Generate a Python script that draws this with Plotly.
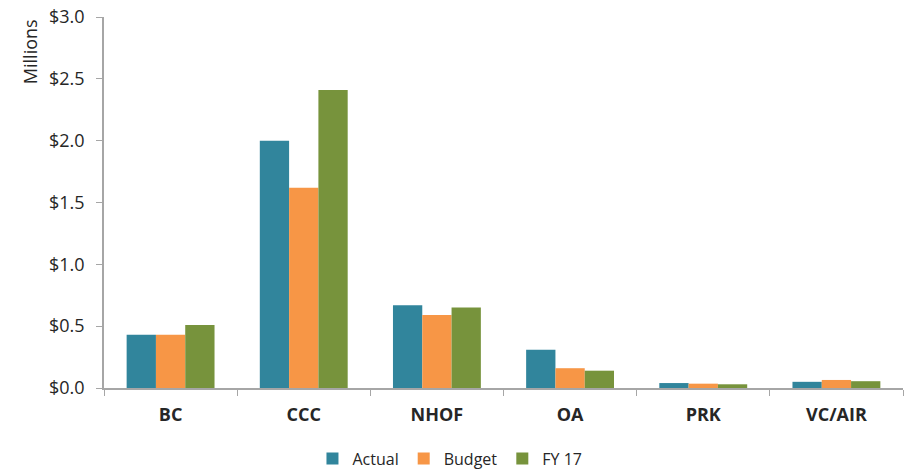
import plotly.graph_objects as go

# categories and series (values in $ millions)
categories = ["BC", "CCC", "NHOF", "OA", "PRK", "VC/AIR"]
actual = [0.43, 2.00, 0.67, 0.31, 0.04, 0.05]
budget = [0.43, 1.62, 0.59, 0.16, 0.035, 0.065]
fy17 = [0.51, 2.41, 0.65, 0.14, 0.03, 0.055]

series = [
    ("Actual", actual, "#31859C"),
    ("Budget", budget, "#F79646"),
    ("FY 17", fy17, "#77933C"),
]

fig = go.Figure()
for name, vals, color in series:
    fig.add_trace(go.Bar(
        x=categories, y=vals, name=name,
        marker=dict(color=color, line=dict(width=0)),
    ))

axis_color = "#A6A6A6"
txt = "#262626"
fig.update_layout(
    width=914, height=472,
    margin=dict(l=104, r=11, t=17, b=84, autoexpand=False),
    paper_bgcolor="white", plot_bgcolor="white",
    barmode="group", bargap=0.34, bargroupgap=0,
    font=dict(family="Open Sans, sans-serif", color=txt),
    legend=dict(
        orientation="h", x=0.433, xanchor="center", y=-0.19, yanchor="middle",
        font=dict(size=16), itemwidth=30, traceorder="normal",
    ),
)
# y-axis title sits at the top, like the original
fig.add_annotation(
    text="Millions", xref="paper", yref="paper", x=-0.093, y=1.0,
    xanchor="center", yanchor="top", textangle=-90, showarrow=False,
    font=dict(size=18, color=txt),
)
fig.update_xaxes(
    showline=True, linecolor=axis_color, linewidth=1.5,
    ticks="outside", tickson="boundaries", ticklen=6, tickcolor=axis_color,
    tickfont=dict(size=18, color=txt, family="Open Sans, sans-serif", weight="bold"),
    ticklabelstandoff=10,
    showgrid=False,
)
fig.update_yaxes(
    range=[0, 3.0], tickvals=[0, 0.5, 1.0, 1.5, 2.0, 2.5, 3.0],
    tickformat="$.1f",
    showline=True, linecolor=axis_color, linewidth=1.5,
    ticks="outside", ticklen=6, tickcolor=axis_color,
    tickfont=dict(size=18, color=txt),
    ticklabelstandoff=8,
    showgrid=False, zeroline=False,
)

# drop the default page margin so the figure sits at the window corner
fig.write_html(
    "out.html",
    config={"displayModeBar": False},
    post_script="document.body.style.margin='0';",
)
